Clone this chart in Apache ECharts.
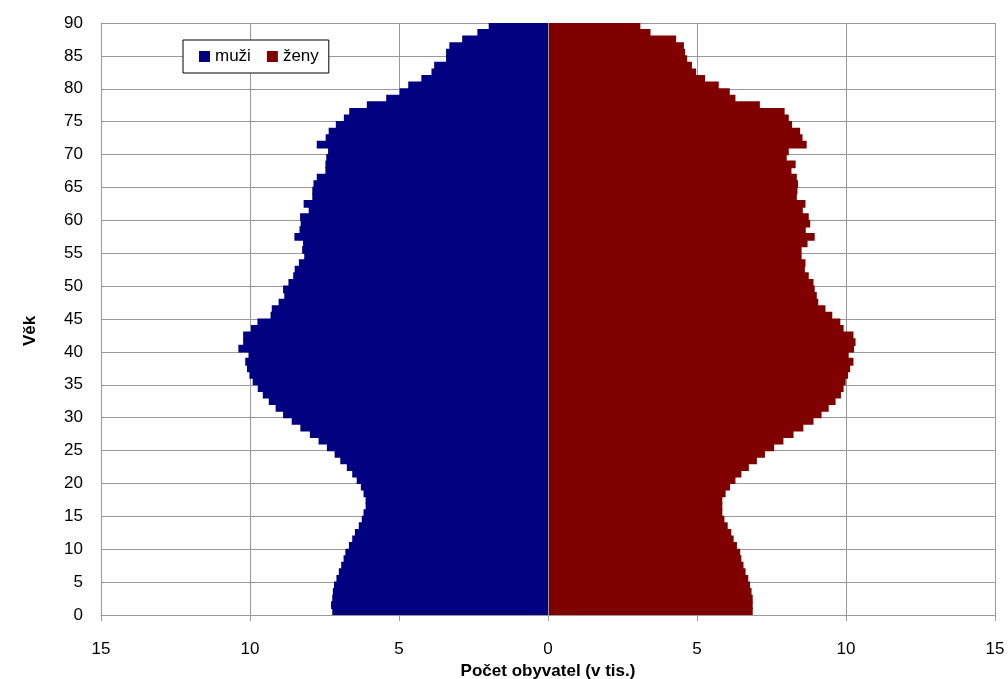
<!DOCTYPE html>
<html>
<head>
<meta charset="utf-8">
<script src="https://cdn.jsdelivr.net/npm/echarts@6/dist/echarts.min.js"></script>
<style>
  html, body { margin: 0; padding: 0; background: #fff; }
  #chart { width: 1008px; height: 679px; }
</style>
</head>
<body>
<div id="chart"></div>
<script>
// věk 0..89
const ages = Array.from({ length: 90 }, (_, i) => String(i));

// muži (v tis.), od věku 0 nahoru
const muzi = [
  7.24, 7.28, 7.24, 7.22, 7.18, 7.10, 7.02, 6.94, 6.86, 6.80,
  6.68, 6.57, 6.48, 6.35, 6.25, 6.19, 6.12, 6.12, 6.19, 6.28,
  6.42, 6.57, 6.75, 6.97, 7.16, 7.42, 7.70, 7.99, 8.31, 8.60,
  8.89, 9.14, 9.37, 9.57, 9.74, 9.91, 10.02, 10.10, 10.16, 10.05,
  10.39, 10.23, 10.23, 9.97, 9.75, 9.31, 9.27, 9.04, 8.85, 8.89,
  8.71, 8.55, 8.50, 8.36, 8.18, 8.25, 8.22, 8.51, 8.34, 8.30,
  8.32, 8.03, 8.20, 7.91, 7.91, 7.87, 7.76, 7.47, 7.47, 7.44,
  7.38, 7.76, 7.46, 7.36, 7.12, 6.85, 6.67, 6.08, 5.43, 4.98,
  4.69, 4.25, 3.91, 3.82, 3.42, 3.42, 3.31, 2.88, 2.37, 1.99
];

// ženy (v tis.)
const zeny = [
  6.87, 6.87, 6.87, 6.83, 6.78, 6.72, 6.63, 6.56, 6.49, 6.45,
  6.34, 6.23, 6.15, 6.03, 5.92, 5.85, 5.85, 5.85, 5.96, 6.11,
  6.29, 6.49, 6.74, 7.01, 7.28, 7.59, 7.90, 8.24, 8.57, 8.91,
  9.18, 9.42, 9.65, 9.83, 9.92, 9.99, 10.07, 10.14, 10.25, 10.09,
  10.27, 10.32, 10.25, 9.92, 9.81, 9.54, 9.31, 9.07, 9.02, 8.95,
  8.91, 8.75, 8.62, 8.64, 8.51, 8.51, 8.71, 8.95, 8.65, 8.80,
  8.75, 8.55, 8.64, 8.35, 8.37, 8.39, 8.35, 8.17, 8.31, 8.01,
  8.08, 8.68, 8.54, 8.46, 8.19, 8.08, 7.94, 7.11, 6.29, 6.10,
  5.73, 5.27, 4.97, 4.83, 4.67, 4.60, 4.56, 4.30, 3.44, 3.10
];

const font = 'Liberation Sans, Arial, sans-serif';

const myChart = echarts.init(document.getElementById('chart'));
const option = {
  animation: false,
  textStyle: { fontFamily: font },
  legend: {
    data: ['muži', 'ženy'],
    left: 183,
    top: 40,
    orient: 'horizontal',
    padding: [8, 10, 8, 16],
    itemWidth: 11,
    itemHeight: 11,
    itemGap: 16,
    itemTextGap: 4,
    borderColor: '#000',
    borderWidth: 1,
    backgroundColor: '#fff',
    icon: 'rect',
    textStyle: { fontSize: 17, color: '#000', fontFamily: font }
  },
  grid: { left: 101, right: 13, top: 23, bottom: 64, outerBoundsMode: 'none', containLabel: false },
  xAxis: {
    type: 'value',
    min: -15,
    max: 15,
    interval: 5,
    name: 'Počet obyvatel (v tis.)',
    nameLocation: 'middle',
    nameGap: 38,
    nameTextStyle: { fontSize: 17, fontWeight: 'bold', color: '#000', fontFamily: font },
    axisLine: { show: true, onZero: false, lineStyle: { color: '#999' } },
    axisTick: { show: true, length: 6, lineStyle: { color: '#999' } },
    axisLabel: {
      color: '#000',
      fontSize: 17,
      margin: 26,
      formatter: v => Math.abs(v)
    },
    splitLine: { show: true, lineStyle: { color: '#999' } }
  },
  yAxis: [
    {
      // kategorie pro sloupce
      type: 'category',
      data: ages,
      show: false
    },
    {
      // popisky a mřížka
      type: 'value',
      min: 0,
      max: 90,
      interval: 5,
      position: 'left',
      name: 'Věk',
      nameLocation: 'middle',
      nameGap: 62,
      nameRotate: 90,
      nameTextStyle: {
        fontSize: 17,
        fontWeight: 'bold',
        color: '#000',
        fontFamily: font,
        padding: [0, 24, 0, 0]
      },
      axisLine: { show: true, onZero: false, lineStyle: { color: '#999' } },
      axisTick: { show: false },
      axisLabel: { color: '#000', fontSize: 17, margin: 18 },
      splitLine: { show: true, lineStyle: { color: '#999' } }
    }
  ],
  series: [
    {
      name: 'muži',
      type: 'bar',
      yAxisIndex: 0,
      data: muzi.map(v => -v),
      barWidth: '118%',
      barGap: '-100%',
      itemStyle: { color: '#000080' }
    },
    {
      name: 'ženy',
      type: 'bar',
      yAxisIndex: 0,
      data: zeny,
      barWidth: '118%',
      barGap: '-100%',
      itemStyle: { color: '#800000' },
      markLine: {
        silent: true,
        symbol: 'none',
        label: { show: false },
        lineStyle: { color: '#999', type: 'solid', width: 1 },
        data: [{ xAxis: 0 }]
      }
    }
  ]
};
myChart.setOption(option);
</script>
</body>
</html>
